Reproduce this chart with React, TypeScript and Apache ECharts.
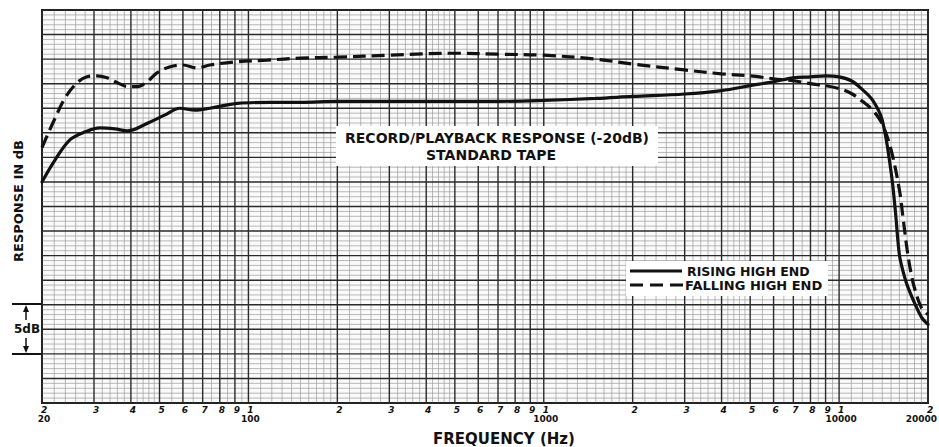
import React, { useEffect, useRef } from "react";
import * as echarts from "echarts";

// Frequencies (Hz) and responses (dB, relative scale 0..40)
const risingFreq = [20, 22.1, 24.9, 28, 31.4, 35.3, 39, 45.7, 52, 58.6, 66, 74, 92, 118, 150, 200, 300, 500, 700, 1000, 1500, 2000, 3000, 4000, 5000, 6000, 7000, 8000, 9000, 10000, 11000, 12000, 13000, 14000, 15000, 15500, 16000, 16500, 17000, 18000, 19000, 20000];
const risingDb = [22.5, 24.7, 26.8, 27.6, 28.0, 27.9, 27.7, 28.5, 29.3, 30.0, 29.8, 30.0, 30.5, 30.6, 30.6, 30.7, 30.7, 30.7, 30.7, 30.8, 31.0, 31.2, 31.45, 31.8, 32.3, 32.7, 33.1, 33.2, 33.3, 33.2, 32.8, 31.9, 30.8, 28.8, 23.5, 19.6, 15.1, 13.3, 12.0, 10.2, 8.75, 8.0];

const fallingFreq = [20, 22, 24, 26.3, 28.4, 30.7, 33.2, 36, 39, 42, 45.4, 49, 54, 60, 67, 74, 89, 116, 150, 200, 300, 500, 700, 1000, 1500, 2000, 3000, 4000, 5000, 6000, 7000, 8000, 9000, 10000, 11000, 12000, 13000, 14000, 15000, 16000, 16500, 17000, 17500, 18000, 19000, 20000];
const fallingDb = [26.0, 28.8, 31.1, 32.6, 33.2, 33.3, 33.1, 32.6, 32.2, 32.2, 32.7, 33.6, 34.2, 34.4, 34.1, 34.4, 34.7, 34.9, 35.1, 35.2, 35.4, 35.6, 35.5, 35.4, 35.0, 34.5, 33.9, 33.5, 33.3, 33.0, 32.8, 32.5, 32.3, 32.0, 31.5, 30.7, 29.8, 28.4, 25.75, 21.7, 18.6, 15.6, 13.3, 11.7, 9.7, 9.0];

// Tick labels along the frequency axis
const tickFreqs = [20, 30, 40, 50, 60, 70, 80, 90, 100, 200, 300, 400, 500, 600, 700, 800, 900, 1000, 2000, 3000, 4000, 5000, 6000, 7000, 8000, 9000, 10000, 20000];
const tickDigits = ["2", "3", "4", "5", "6", "7", "8", "9", "1", "2", "3", "4", "5", "6", "7", "8", "9", "1", "2", "3", "4", "5", "6", "7", "8", "9", "1", "2"];
const tickDecades = ["20", "", "", "", "", "", "", "", "100", "", "", "", "", "", "", "", "", "1000", "", "", "", "", "", "", "", "", "10000", "20000"];

const FMIN = 20;
const FMAX = 20000;
const DBMIN = 0;
const DBMAX = 40;

const FONT = "'DejaVu Sans', 'Liberation Sans', sans-serif";

function buildGridLines() {
  const fine: number[] = [];
  const heavy: number[] = [];
  for (let dec = 10; dec <= 10000; dec *= 10) {
    for (let m = 1; m < 10; m += 1) {
      const base = m * dec;
      if (base >= FMIN && base <= FMAX) heavy.push(base);
      const step = m < 2 ? 0.1 : m < 5 ? 0.2 : 0.5;
      for (let s = m + step; s < m + 1 - 1e-6; s += step) {
        const f = s * dec;
        if (f > FMIN && f < FMAX) fine.push(f);
      }
    }
  }
  heavy.push(FMAX);
  const hFine: number[] = [];
  const hHeavy: number[] = [];
  for (let v = DBMIN; v <= DBMAX + 1e-6; v += 0.5) {
    const r = Math.round(v * 10) / 10;
    if (Math.abs(r / 2.5 - Math.round(r / 2.5)) < 1e-6) hHeavy.push(r);
    else hFine.push(r);
  }
  return { fine, heavy, hFine, hHeavy };
}

export default function App() {
  const ref = useRef<HTMLDivElement>(null);

  useEffect(() => {
    document.body.style.margin = "0";
    document.body.style.background = "#ffffff";
    if (!ref.current) return;
    const chart = echarts.init(ref.current, null, { renderer: "svg" });
    const g = buildGridLines();

    const option: any = {
      animation: false,
      backgroundColor: "#ffffff",
      grid: {
        left: 42,
        right: 11,
        top: 10,
        bottom: 44,
        show: true,
        borderColor: "#111",
        borderWidth: 2,
        backgroundColor: "#fafafa",
        z: 0,
      },
      xAxis: {
        type: "log",
        logBase: 10,
        min: FMIN,
        max: FMAX,
        show: false,
      },
      yAxis: {
        type: "value",
        min: DBMIN,
        max: DBMAX,
        show: false,
      },
      series: [
        {
          type: "custom",
          name: "paper",
          silent: true,
          z: 1,
          clip: false,
          data: [[FMIN, DBMIN]],
          renderItem: (params: any, api: any) => {
            const children: any[] = [];
            const yTop = api.coord([FMIN, DBMAX])[1];
            const yBot = api.coord([FMIN, DBMIN])[1];
            const xL = api.coord([FMIN, DBMIN])[0];
            const xR = api.coord([FMAX, DBMIN])[0];
            g.fine.forEach((f) => {
              const x = api.coord([f, DBMIN])[0];
              children.push({ type: "line", shape: { x1: x, y1: yTop, x2: x, y2: yBot }, style: { stroke: "#9c9c9c", lineWidth: 0.7 } });
            });
            g.hFine.forEach((v) => {
              const y = api.coord([FMIN, v])[1];
              children.push({ type: "line", shape: { x1: xL, y1: y, x2: xR, y2: y }, style: { stroke: "#9c9c9c", lineWidth: 0.7 } });
            });
            g.heavy.forEach((f) => {
              const x = api.coord([f, DBMIN])[0];
              children.push({ type: "line", shape: { x1: x, y1: yTop, x2: x, y2: yBot }, style: { stroke: "#2a2a2a", lineWidth: 1.4 } });
            });
            g.hHeavy.forEach((v) => {
              const y = api.coord([FMIN, v])[1];
              children.push({ type: "line", shape: { x1: xL, y1: y, x2: xR, y2: y }, style: { stroke: "#2a2a2a", lineWidth: 1.4 } });
            });
            return { type: "group", children };
          },
        },
        {
          type: "custom",
          name: "ticks",
          silent: true,
          z: 2,
          clip: false,
          data: tickFreqs.map((f) => [f, DBMIN]),
          renderItem: (params: any, api: any) => {
            const i = params.dataIndex;
            const p = api.coord([api.value(0), DBMIN]);
            const last = i === tickFreqs.length - 1;
            const children: any[] = [
              {
                type: "text",
                x: p[0] + 2,
                y: p[1] + 7,
                style: { text: tickDigits[i], font: `italic bold 9px ${FONT}`, fill: "#111", align: "center", verticalAlign: "middle" },
              },
            ];
            if (tickDecades[i]) {
              children.push({
                type: "text",
                x: last ? 937 : p[0] + 2,
                y: p[1] + 16,
                style: { text: tickDecades[i], font: `bold 9px ${FONT}`, fill: "#111", align: last ? "right" : "center", verticalAlign: "middle" },
              });
            }
            return { type: "group", children };
          },
        },
        {
          type: "line",
          name: "RISING HIGH END",
          data: risingFreq.map((f, i) => [f, risingDb[i]]),
          showSymbol: false,
          smooth: 0.35,
          z: 5,
          lineStyle: { color: "#111", width: 3.2, cap: "round" },
        },
        {
          type: "line",
          name: "FALLING HIGH END",
          data: fallingFreq.map((f, i) => [f, fallingDb[i]]),
          showSymbol: false,
          smooth: 0.35,
          z: 4,
          lineStyle: { color: "#111", width: 3.2, type: [13, 6] },
        },
      ],
      graphic: [
        {
          type: "text",
          x: 18,
          y: 201,
          rotation: Math.PI / 2,
          style: { text: "RESPONSE IN dB", font: `bold 13px ${FONT}`, fill: "#111", align: "center", verticalAlign: "middle" },
        },
        {
          type: "text",
          x: 504,
          y: 439,
          style: { text: "FREQUENCY (Hz)", font: `bold 15px ${FONT}`, fill: "#111", align: "center", verticalAlign: "middle" },
        },
        { type: "rect", shape: { x: 336, y: 126, width: 322, height: 40 }, style: { fill: "#ffffff" }, z: 10 },
        {
          type: "text",
          x: 497,
          y: 138,
          z: 11,
          style: { text: "RECORD/PLAYBACK RESPONSE (-20dB)", font: `bold 14px ${FONT}`, fill: "#111", align: "center", verticalAlign: "middle" },
        },
        {
          type: "text",
          x: 491,
          y: 155,
          z: 11,
          style: { text: "STANDARD TAPE", font: `bold 14px ${FONT}`, fill: "#111", align: "center", verticalAlign: "middle" },
        },
        { type: "rect", shape: { x: 626, y: 261, width: 202, height: 35 }, style: { fill: "#ffffff" }, z: 10 },
        { type: "line", shape: { x1: 630, y1: 271, x2: 682, y2: 271 }, style: { stroke: "#111", lineWidth: 3 }, z: 11 },
        { type: "line", shape: { x1: 630, y1: 285, x2: 684, y2: 285 }, style: { stroke: "#111", lineWidth: 3, lineDash: [13, 7] }, z: 11 },
        {
          type: "text",
          x: 687,
          y: 271,
          z: 11,
          style: { text: "RISING HIGH END", font: `bold 12.5px ${FONT}`, fill: "#111", align: "left", verticalAlign: "middle" },
        },
        {
          type: "text",
          x: 685,
          y: 285,
          z: 11,
          style: { text: "FALLING HIGH END", font: `bold 13px ${FONT}`, fill: "#111", align: "left", verticalAlign: "middle" },
        },
        // 5 dB scale marker
        { type: "line", shape: { x1: 12, y1: 304, x2: 41, y2: 304 }, style: { stroke: "#111", lineWidth: 2 } },
        { type: "line", shape: { x1: 12, y1: 354, x2: 41, y2: 354 }, style: { stroke: "#111", lineWidth: 2 } },
        { type: "line", shape: { x1: 26, y1: 308, x2: 26, y2: 320 }, style: { stroke: "#111", lineWidth: 1.5 } },
        { type: "polygon", shape: { points: [[26, 305], [23, 312], [29, 312]] }, style: { fill: "#111" } },
        { type: "line", shape: { x1: 26, y1: 338, x2: 26, y2: 350 }, style: { stroke: "#111", lineWidth: 1.5 } },
        { type: "polygon", shape: { points: [[26, 353], [23, 346], [29, 346]] }, style: { fill: "#111" } },
        {
          type: "text",
          x: 27,
          y: 329,
          style: { text: "5dB", font: `bold 12px ${FONT}`, fill: "#111", align: "center", verticalAlign: "middle" },
        },
      ],
    };

    chart.setOption(option);
    return () => {
      chart.dispose();
    };
  }, []);

  return <div ref={ref} style={{ width: 939, height: 447 }} />;
}
